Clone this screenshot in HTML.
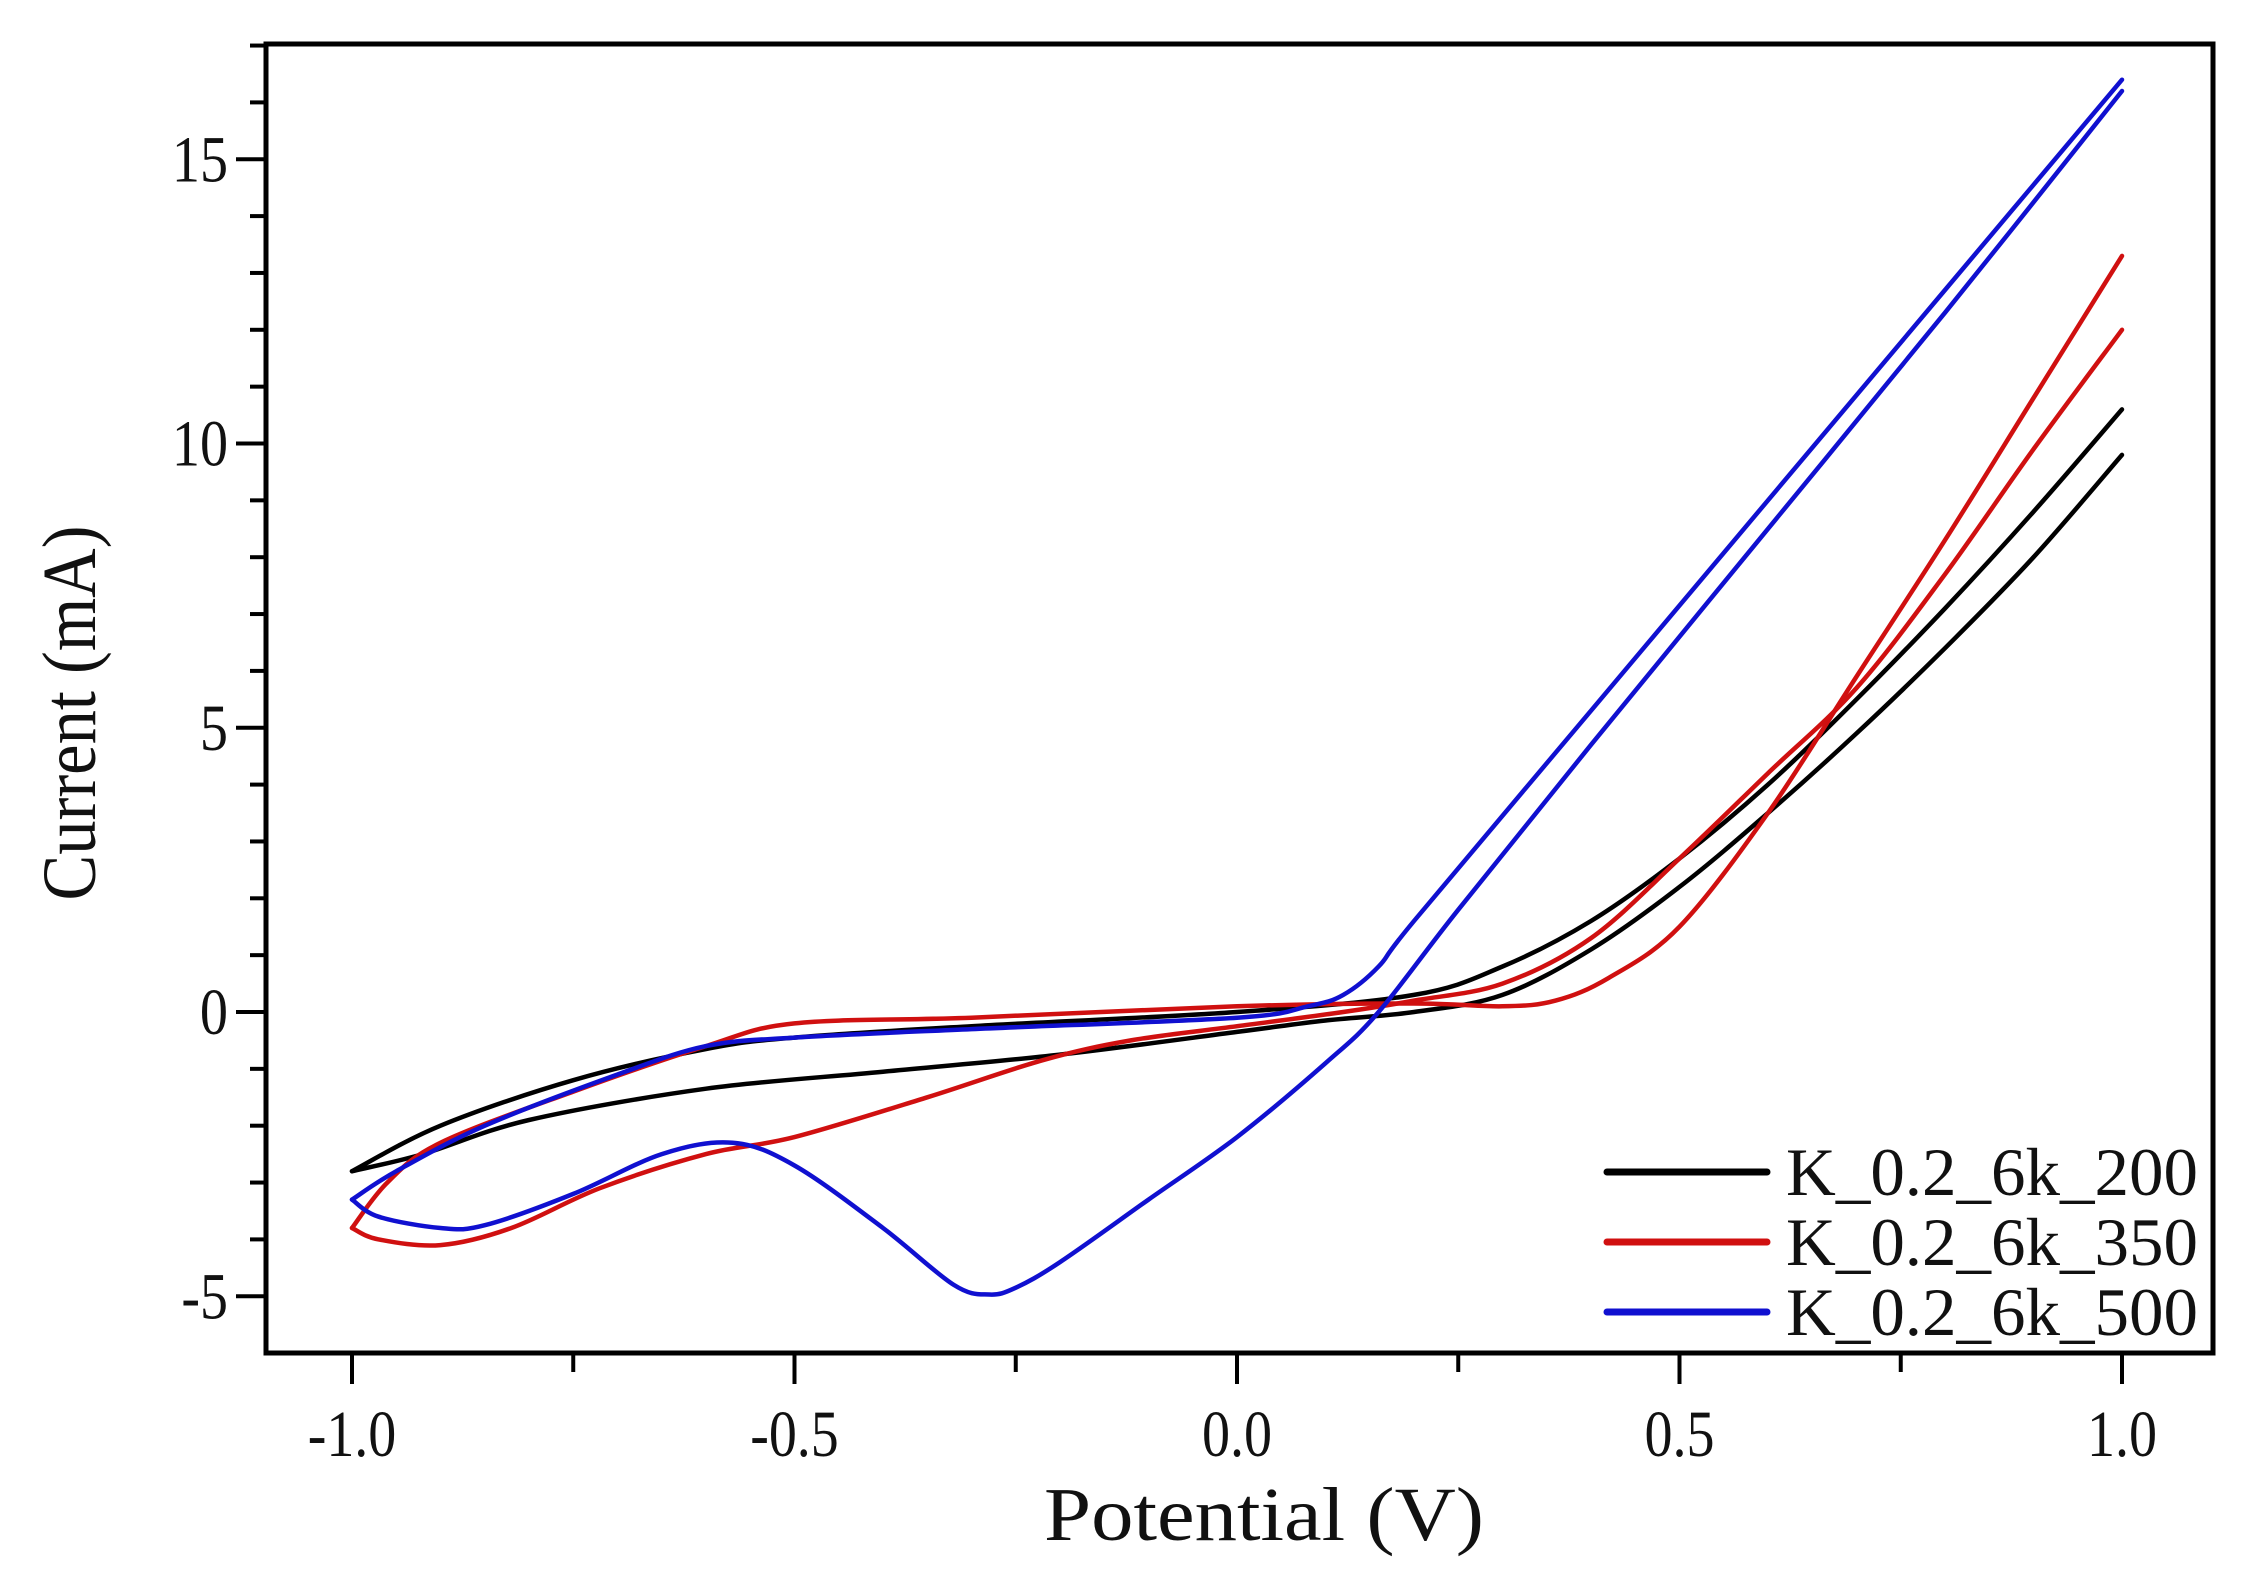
<!DOCTYPE html>
<html><head><meta charset="utf-8"><style>
html,body{margin:0;padding:0;background:#fff;}
svg{display:block;}
text{font-family:"Liberation Serif","DejaVu Serif",serif;fill:#111;}
</style></head><body>
<svg id="s" width="2248" height="1575" viewBox="0 0 2248 1575" xmlns="http://www.w3.org/2000/svg">
<rect width="2248" height="1575" fill="#fff"/>
<g id="curves" fill="none" stroke-width="4.5" stroke-linejoin="round" stroke-linecap="round"></g>
<rect x="266" y="44" width="1947" height="1309" fill="none" stroke="#000" stroke-width="5"/>
<g id="ticks" stroke="#000" stroke-width="4"></g>
<g id="labels" font-size="66"></g>
<text x="1264" y="1540" font-size="76" text-anchor="middle" textLength="440" lengthAdjust="spacingAndGlyphs">Potential (V)</text>
<text transform="translate(95,713) rotate(-90)" font-size="76" text-anchor="middle" textLength="375" lengthAdjust="spacingAndGlyphs">Current (mA)</text>
<g stroke-width="7" stroke-linecap="round">
<line x1="1607" y1="1172" x2="1767" y2="1172" stroke="#000"/>
<line x1="1607" y1="1242" x2="1767" y2="1242" stroke="#d01010"/>
<line x1="1607" y1="1312" x2="1767" y2="1312" stroke="#1010d0"/>
</g>
<g font-size="68">
<text x="1786" y="1195" textLength="412" lengthAdjust="spacingAndGlyphs">K_0.2_6k_200</text>
<text x="1786" y="1265" textLength="412" lengthAdjust="spacingAndGlyphs">K_0.2_6k_350</text>
<text x="1786" y="1335" textLength="412" lengthAdjust="spacingAndGlyphs">K_0.2_6k_500</text>
</g>
</svg>
<script>
var X=function(v){return 1237+885*v;}, Y=function(i){return 1012-56.85*i;};
var NS="http://www.w3.org/2000/svg";
function path(pts,col){
 var p=pts.map(function(a){return [X(a[0]),Y(a[1])];});
 var d="M"+p[0][0].toFixed(1)+","+p[0][1].toFixed(1);
 for(var i=0;i<p.length-1;i++){
  var p0=p[i-1]||p[i],p1=p[i],p2=p[i+1],p3=p[i+2]||p2;
  var c1=[p1[0]+(p2[0]-p0[0])/6,p1[1]+(p2[1]-p0[1])/6];
  var c2=[p2[0]-(p3[0]-p1[0])/6,p2[1]-(p3[1]-p1[1])/6];
  d+="C"+c1[0].toFixed(1)+","+c1[1].toFixed(1)+" "+c2[0].toFixed(1)+","+c2[1].toFixed(1)+" "+p2[0].toFixed(1)+","+p2[1].toFixed(1);
 }
 var e=document.createElementNS(NS,"path");e.setAttribute("d",d);e.setAttribute("stroke",col);
 document.getElementById("curves").appendChild(e);
}
// black
path([[-1,-2.8],[-0.9,-2.0],[-0.75,-1.2],[-0.6,-0.65],[-0.5,-0.45],[-0.3,-0.25],[0,0],[0.2,0.3],[0.3,0.8],[0.4,1.6],[0.5,2.7],[0.6,4.0],[0.7,5.5],[0.8,7.1],[0.9,8.8],[1.0,10.6]],"#000");
path([[1.0,9.8],[0.9,8.0],[0.8,6.4],[0.7,4.9],[0.6,3.5],[0.5,2.2],[0.4,1.1],[0.3,0.3],[0.2,0],[0.1,-0.15],[0,-0.35],[-0.2,-0.75],[-0.4,-1.05],[-0.6,-1.35],[-0.8,-1.9],[-0.92,-2.5],[-1,-2.8]],"#000");
// red
path([[-1,-3.8],[-0.96,-3.0],[-0.9,-2.3],[-0.75,-1.4],[-0.6,-0.6],[-0.5,-0.2],[-0.3,-0.1],[0,0.1],[0.2,0.15],[0.3,0.1],[0.36,0.2],[0.42,0.6],[0.5,1.5],[0.6,3.5],[0.7,5.9],[0.8,8.3],[0.9,10.8],[1.0,13.3]],"#d01010");
path([[1.0,12.0],[0.9,9.9],[0.8,7.7],[0.7,5.7],[0.6,4.2],[0.5,2.7],[0.4,1.3],[0.3,0.5],[0.2,0.2],[0.12,0],[0,-0.25],[-0.12,-0.5],[-0.22,-0.85],[-0.35,-1.5],[-0.5,-2.2],[-0.6,-2.5],[-0.72,-3.1],[-0.82,-3.8],[-0.9,-4.1],[-0.97,-4.0],[-1,-3.8]],"#d01010");
// blue
path([[-1,-3.3],[-0.95,-2.8],[-0.85,-2.0],[-0.7,-1.1],[-0.6,-0.6],[-0.5,-0.45],[-0.3,-0.3],[0,-0.1],[0.08,0.1],[0.12,0.3],[0.16,0.8],[0.2,1.6],[0.4,5.3],[0.6,9.0],[0.8,12.7],[1.0,16.4]],"#1010d0");
path([[1.0,16.2],[0.8,12.3],[0.6,8.5],[0.4,4.7],[0.25,1.8],[0.16,0],[0.1,-0.9],[0,-2.2],[-0.1,-3.3],[-0.2,-4.4],[-0.25,-4.85],[-0.28,-4.97],[-0.32,-4.8],[-0.4,-3.8],[-0.5,-2.7],[-0.57,-2.3],[-0.65,-2.5],[-0.75,-3.2],[-0.85,-3.75],[-0.9,-3.8],[-0.97,-3.6],[-1,-3.3]],"#1010d0");
// ticks
var t=document.getElementById("ticks"),L=document.getElementById("labels");
function ln(a,b,c,d){var e=document.createElementNS(NS,"line");e.setAttribute("x1",a);e.setAttribute("y1",b);e.setAttribute("x2",c);e.setAttribute("y2",d);t.appendChild(e);}
function tw(s){var w=0;for(var i=0;i<s.length;i++){var c=s[i];w+=(c==='.')?0.25:(c==='-')?0.33:0.5;}return w*66*0.85;}
function tx(x,y,s,anc){var e=document.createElementNS(NS,"text");e.setAttribute("x",x);e.setAttribute("y",y);e.setAttribute("text-anchor",anc);e.setAttribute("textLength",tw(s).toFixed(1));e.setAttribute("lengthAdjust","spacingAndGlyphs");e.textContent=s;L.appendChild(e);}
for(var i=-5;i<=17;i++){var y=Y(i);var maj=(i%5===0);ln(266,y,maj?236:250,y);if(maj)tx(228,y+22,i===0?"0":String(i),"end");}
for(var k=-4;k<=4;k++){var v=k*0.25,x=X(v);var maj=(k%2===0);ln(x,1353,x,maj?1384:1372);if(maj)tx(x,1456,v.toFixed(1),"middle");}
</script>
</body></html>
